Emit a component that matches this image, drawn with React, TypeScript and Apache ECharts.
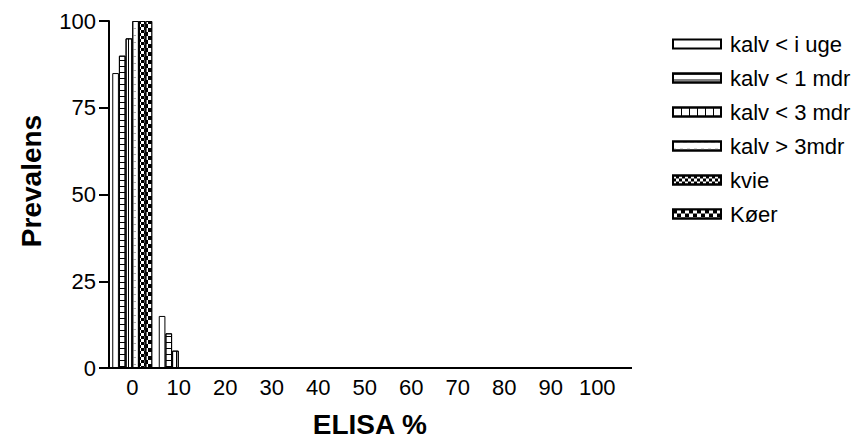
import React, { useEffect, useRef } from "react";
import * as echarts from "echarts";

// ELISA % buckets on the x axis
const categories = ["0", "10", "20", "30", "40", "50", "60", "70", "80", "90", "100"];

// Prevalence (%) per age group in each ELISA bucket
const kalvUnderUge = [85, 15, 0, 0, 0, 0, 0, 0, 0, 0, 0];
const kalvUnder1Mdr = [90, 10, 0, 0, 0, 0, 0, 0, 0, 0, 0];
const kalvUnder3Mdr = [95, 5, 0, 0, 0, 0, 0, 0, 0, 0, 0];
const kalvOver3Mdr = [100, 0, 0, 0, 0, 0, 0, 0, 0, 0, 0];
const kvie = [100, 0, 0, 0, 0, 0, 0, 0, 0, 0, 0];
const koer = [100, 0, 0, 0, 0, 0, 0, 0, 0, 0, 0];

const seriesNames = ["kalv < i uge", "kalv < 1 mdr", "kalv < 3 mdr", "kalv > 3mdr", "kvie", "Køer"];
const seriesValues = [kalvUnderUge, kalvUnder1Mdr, kalvUnder3Mdr, kalvOver3Mdr, kvie, koer];

const yTicks = { min: 0, max: 100, interval: 25 };

const FONT = "'Liberation Sans', Arial, Helvetica, sans-serif";

// Fill and hatch pattern of each group
const fills: any[] = [
  { color: "#fff" },
  {
    color: "#fff",
    decal: { symbol: "rect", symbolSize: 1, color: "#000", dashArrayX: [10, 0], dashArrayY: [1, 5] },
  },
  {
    color: "#fff",
    decal: { symbol: "rect", symbolSize: 1, color: "#000", dashArrayX: [1, 7], dashArrayY: [10, 0] },
  },
  {
    color: "#fff",
    decal: { symbol: "rect", symbolSize: 1, color: "#aaa", dashArrayX: [3, 4], dashArrayY: [1, 6] },
  },
  {
    color: "#fff",
    decal: {
      symbol: "rect",
      symbolSize: 1,
      color: "#000",
      dashArrayX: [[3, 3], [0, 3, 3, 0]],
      dashArrayY: [3, 0],
    },
  },
  {
    color: "#000",
    decal: {
      symbol: "rect",
      symbolSize: 1,
      color: "#fff",
      dashArrayX: [[4, 4], [0, 4, 4, 0]],
      dashArrayY: [4, 0],
    },
  },
];

export default function App() {
  const ref = useRef<HTMLDivElement>(null);

  useEffect(() => {
    document.body.style.margin = "0";
    if (!ref.current) return;
    const chart = echarts.init(ref.current, undefined, { renderer: "svg" });

    const series = seriesNames.map((name, i) => ({
      name,
      type: "bar",
      data: seriesValues[i],
      barGap: "0%",
      barCategoryGap: "14%",
      itemStyle: {
        ...fills[i],
        borderColor: "#000",
        borderWidth: 1,
      },
    }));

    chart.setOption({
      animation: false,
      backgroundColor: "#fff",
      textStyle: { fontFamily: FONT },
      grid: {
        left: 109,
        width: 511.5,
        top: 21,
        height: 347,
        containLabel: false,
        outerBoundsMode: "none",
      },
      legend: {
        orient: "vertical",
        left: 667,
        top: 28,
        itemWidth: 48,
        itemHeight: 9,
        itemGap: 12,
        icon: "rect",
        selectedMode: false,
        data: seriesNames,
        textStyle: {
          fontFamily: FONT,
          fontSize: 22,
          lineHeight: 22,
          color: "#000",
          padding: [0, 0, 0, 4],
        },
      },
      xAxis: {
        type: "category",
        data: categories,
        axisTick: { show: false },
        axisLine: { lineStyle: { color: "#000", width: 2 } },
        axisLabel: {
          color: "#000",
          fontSize: 22,
          fontFamily: FONT,
          margin: 8,
          interval: 0,
          hideOverlap: false,
        },
        name: "ELISA %",
        nameLocation: "middle",
        nameGap: 42,
        nameTextStyle: {
          color: "#000",
          fontSize: 28,
          lineHeight: 28,
          fontWeight: "bold",
          fontFamily: FONT,
          padding: [0, 0, 0, 10],
        },
        z: 10,
      },
      yAxis: {
        type: "value",
        ...yTicks,
        splitLine: { show: false },
        axisLine: { show: true, lineStyle: { color: "#000", width: 2 } },
        axisTick: { show: true, length: 10, lineStyle: { color: "#000", width: 2 } },
        axisLabel: { color: "#000", fontSize: 22, fontFamily: FONT, margin: 13 },
        name: "Prevalens",
        nameLocation: "middle",
        nameRotate: 90,
        nameGap: 64,
        nameTextStyle: {
          color: "#000",
          fontSize: 28,
          fontWeight: "bold",
          fontFamily: FONT,
          padding: [0, 0, 0, 27],
        },
        z: 10,
      },
      graphic: [
        {
          type: "line",
          shape: { x1: 620, y1: 368, x2: 632, y2: 368 },
          style: { stroke: "#000", lineWidth: 2 },
        },
      ],
      series,
    });

    return () => chart.dispose();
  }, []);

  return <div ref={ref} style={{ width: 865, height: 441 }} />;
}
